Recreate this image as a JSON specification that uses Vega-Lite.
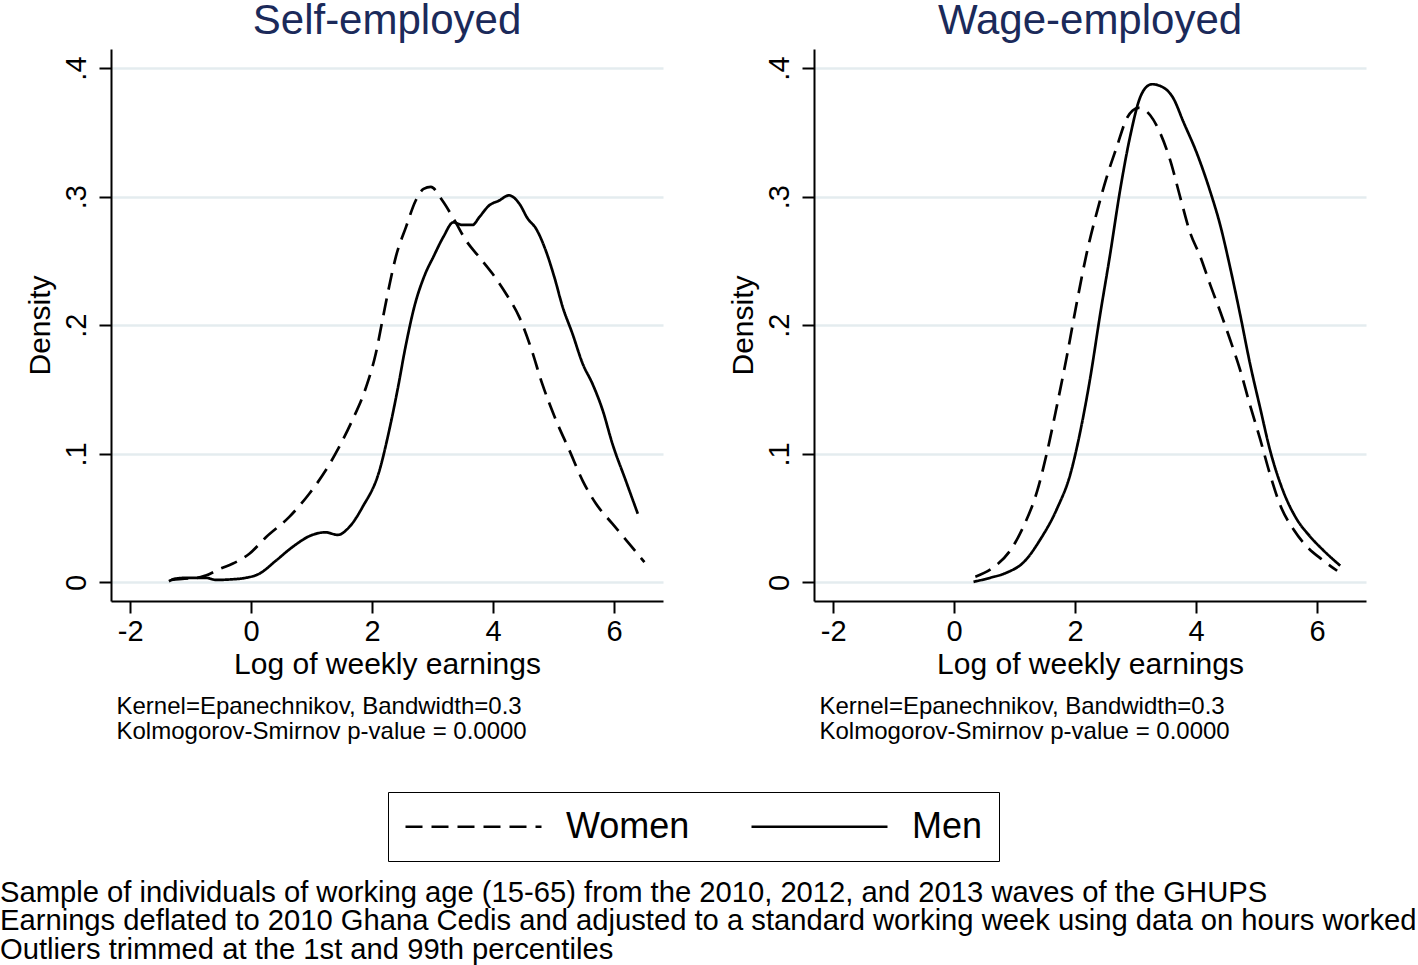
{
  "$schema": "https://vega.github.io/schema/vega-lite/v6.json",
  "background": "white",
  "padding": 0,
  "autosize": {"type": "pad"},
  "datasets": {
    "curves": [
      {"panel": "Self-employed", "sex": "Women", "x": -1.32, "y": 0.002},
      {"panel": "Self-employed", "sex": "Women", "x": -1.1, "y": 0.003},
      {"panel": "Self-employed", "sex": "Women", "x": -0.9, "y": 0.0035},
      {"panel": "Self-employed", "sex": "Women", "x": -0.75, "y": 0.0054},
      {"panel": "Self-employed", "sex": "Women", "x": -0.5, "y": 0.011},
      {"panel": "Self-employed", "sex": "Women", "x": -0.31, "y": 0.0145},
      {"panel": "Self-employed", "sex": "Women", "x": -0.03, "y": 0.0223},
      {"panel": "Self-employed", "sex": "Women", "x": 0.24, "y": 0.035},
      {"panel": "Self-employed", "sex": "Women", "x": 0.63, "y": 0.051},
      {"panel": "Self-employed", "sex": "Women", "x": 0.96, "y": 0.069},
      {"panel": "Self-employed", "sex": "Women", "x": 1.23, "y": 0.087},
      {"panel": "Self-employed", "sex": "Women", "x": 1.45, "y": 0.105},
      {"panel": "Self-employed", "sex": "Women", "x": 1.67, "y": 0.126},
      {"panel": "Self-employed", "sex": "Women", "x": 1.9, "y": 0.152},
      {"panel": "Self-employed", "sex": "Women", "x": 2.06, "y": 0.178},
      {"panel": "Self-employed", "sex": "Women", "x": 2.17, "y": 0.204},
      {"panel": "Self-employed", "sex": "Women", "x": 2.28, "y": 0.23},
      {"panel": "Self-employed", "sex": "Women", "x": 2.39, "y": 0.253},
      {"panel": "Self-employed", "sex": "Women", "x": 2.56, "y": 0.2765},
      {"panel": "Self-employed", "sex": "Women", "x": 2.72, "y": 0.297},
      {"panel": "Self-employed", "sex": "Women", "x": 2.85, "y": 0.306},
      {"panel": "Self-employed", "sex": "Women", "x": 2.97, "y": 0.3076},
      {"panel": "Self-employed", "sex": "Women", "x": 3.16, "y": 0.297},
      {"panel": "Self-employed", "sex": "Women", "x": 3.36, "y": 0.2817},
      {"panel": "Self-employed", "sex": "Women", "x": 3.55, "y": 0.266},
      {"panel": "Self-employed", "sex": "Women", "x": 3.77, "y": 0.253},
      {"panel": "Self-employed", "sex": "Women", "x": 3.99, "y": 0.24},
      {"panel": "Self-employed", "sex": "Women", "x": 4.21, "y": 0.2247},
      {"panel": "Self-employed", "sex": "Women", "x": 4.43, "y": 0.2065},
      {"panel": "Self-employed", "sex": "Women", "x": 4.62, "y": 0.183},
      {"panel": "Self-employed", "sex": "Women", "x": 4.81, "y": 0.1546},
      {"panel": "Self-employed", "sex": "Women", "x": 5.04, "y": 0.126},
      {"panel": "Self-employed", "sex": "Women", "x": 5.26, "y": 0.1027},
      {"panel": "Self-employed", "sex": "Women", "x": 5.48, "y": 0.079},
      {"panel": "Self-employed", "sex": "Women", "x": 5.7, "y": 0.0612},
      {"panel": "Self-employed", "sex": "Women", "x": 5.97, "y": 0.0457},
      {"panel": "Self-employed", "sex": "Women", "x": 6.25, "y": 0.0301},
      {"panel": "Self-employed", "sex": "Women", "x": 6.5, "y": 0.0158},
      {"panel": "Self-employed", "sex": "Men", "x": -1.36, "y": 0.001},
      {"panel": "Self-employed", "sex": "Men", "x": -1.25, "y": 0.003},
      {"panel": "Self-employed", "sex": "Men", "x": -1.08, "y": 0.0036},
      {"panel": "Self-employed", "sex": "Men", "x": -0.9, "y": 0.0036},
      {"panel": "Self-employed", "sex": "Men", "x": -0.75, "y": 0.0036},
      {"panel": "Self-employed", "sex": "Men", "x": -0.58, "y": 0.002},
      {"panel": "Self-employed", "sex": "Men", "x": -0.3, "y": 0.0025},
      {"panel": "Self-employed", "sex": "Men", "x": -0.09, "y": 0.0036},
      {"panel": "Self-employed", "sex": "Men", "x": 0.13, "y": 0.0067},
      {"panel": "Self-employed", "sex": "Men", "x": 0.41, "y": 0.017},
      {"panel": "Self-employed", "sex": "Men", "x": 0.68, "y": 0.0275},
      {"panel": "Self-employed", "sex": "Men", "x": 1.01, "y": 0.037},
      {"panel": "Self-employed", "sex": "Men", "x": 1.23, "y": 0.039},
      {"panel": "Self-employed", "sex": "Men", "x": 1.43, "y": 0.037},
      {"panel": "Self-employed", "sex": "Men", "x": 1.62, "y": 0.043},
      {"panel": "Self-employed", "sex": "Men", "x": 1.84, "y": 0.0586},
      {"panel": "Self-employed", "sex": "Men", "x": 2.12, "y": 0.087},
      {"panel": "Self-employed", "sex": "Men", "x": 2.28, "y": 0.118},
      {"panel": "Self-employed", "sex": "Men", "x": 2.42, "y": 0.15},
      {"panel": "Self-employed", "sex": "Men", "x": 2.55, "y": 0.183},
      {"panel": "Self-employed", "sex": "Men", "x": 2.7, "y": 0.215},
      {"panel": "Self-employed", "sex": "Men", "x": 2.86, "y": 0.238},
      {"panel": "Self-employed", "sex": "Men", "x": 3.02, "y": 0.254},
      {"panel": "Self-employed", "sex": "Men", "x": 3.18, "y": 0.269},
      {"panel": "Self-employed", "sex": "Men", "x": 3.34, "y": 0.28},
      {"panel": "Self-employed", "sex": "Men", "x": 3.49, "y": 0.278},
      {"panel": "Self-employed", "sex": "Men", "x": 3.66, "y": 0.278},
      {"panel": "Self-employed", "sex": "Men", "x": 3.77, "y": 0.284},
      {"panel": "Self-employed", "sex": "Men", "x": 3.93, "y": 0.293},
      {"panel": "Self-employed", "sex": "Men", "x": 4.1, "y": 0.297},
      {"panel": "Self-employed", "sex": "Men", "x": 4.26, "y": 0.301},
      {"panel": "Self-employed", "sex": "Men", "x": 4.43, "y": 0.2947},
      {"panel": "Self-employed", "sex": "Men", "x": 4.57, "y": 0.283},
      {"panel": "Self-employed", "sex": "Men", "x": 4.71, "y": 0.275},
      {"panel": "Self-employed", "sex": "Men", "x": 4.87, "y": 0.258},
      {"panel": "Self-employed", "sex": "Men", "x": 5.01, "y": 0.2376},
      {"panel": "Self-employed", "sex": "Men", "x": 5.15, "y": 0.214},
      {"panel": "Self-employed", "sex": "Men", "x": 5.31, "y": 0.1935},
      {"panel": "Self-employed", "sex": "Men", "x": 5.48, "y": 0.17},
      {"panel": "Self-employed", "sex": "Men", "x": 5.64, "y": 0.1546},
      {"panel": "Self-employed", "sex": "Men", "x": 5.81, "y": 0.1339},
      {"panel": "Self-employed", "sex": "Men", "x": 5.97, "y": 0.108},
      {"panel": "Self-employed", "sex": "Men", "x": 6.19, "y": 0.0794},
      {"panel": "Self-employed", "sex": "Men", "x": 6.39, "y": 0.0535},
      {"panel": "Wage-employed", "sex": "Women", "x": 0.35, "y": 0.0045},
      {"panel": "Wage-employed", "sex": "Women", "x": 0.65, "y": 0.0118},
      {"panel": "Wage-employed", "sex": "Women", "x": 0.93, "y": 0.0251},
      {"panel": "Wage-employed", "sex": "Women", "x": 1.15, "y": 0.044},
      {"panel": "Wage-employed", "sex": "Women", "x": 1.37, "y": 0.0708},
      {"panel": "Wage-employed", "sex": "Women", "x": 1.53, "y": 0.1003},
      {"panel": "Wage-employed", "sex": "Women", "x": 1.7, "y": 0.1379},
      {"panel": "Wage-employed", "sex": "Women", "x": 1.86, "y": 0.1754},
      {"panel": "Wage-employed", "sex": "Women", "x": 2.03, "y": 0.2184},
      {"panel": "Wage-employed", "sex": "Women", "x": 2.19, "y": 0.2559},
      {"panel": "Wage-employed", "sex": "Women", "x": 2.36, "y": 0.2882},
      {"panel": "Wage-employed", "sex": "Women", "x": 2.52, "y": 0.315},
      {"panel": "Wage-employed", "sex": "Women", "x": 2.69, "y": 0.339},
      {"panel": "Wage-employed", "sex": "Women", "x": 2.85, "y": 0.3606},
      {"panel": "Wage-employed", "sex": "Women", "x": 2.95, "y": 0.367},
      {"panel": "Wage-employed", "sex": "Women", "x": 3.05, "y": 0.369},
      {"panel": "Wage-employed", "sex": "Women", "x": 3.24, "y": 0.3633},
      {"panel": "Wage-employed", "sex": "Women", "x": 3.4, "y": 0.35},
      {"panel": "Wage-employed", "sex": "Women", "x": 3.57, "y": 0.3284},
      {"panel": "Wage-employed", "sex": "Women", "x": 3.74, "y": 0.2989},
      {"panel": "Wage-employed", "sex": "Women", "x": 3.9, "y": 0.272},
      {"panel": "Wage-employed", "sex": "Women", "x": 4.07, "y": 0.2532},
      {"panel": "Wage-employed", "sex": "Women", "x": 4.23, "y": 0.2318},
      {"panel": "Wage-employed", "sex": "Women", "x": 4.4, "y": 0.2103},
      {"panel": "Wage-employed", "sex": "Women", "x": 4.56, "y": 0.1889},
      {"panel": "Wage-employed", "sex": "Women", "x": 4.73, "y": 0.1647},
      {"panel": "Wage-employed", "sex": "Women", "x": 4.89, "y": 0.1379},
      {"panel": "Wage-employed", "sex": "Women", "x": 5.06, "y": 0.111},
      {"panel": "Wage-employed", "sex": "Women", "x": 5.22, "y": 0.0842},
      {"panel": "Wage-employed", "sex": "Women", "x": 5.39, "y": 0.06},
      {"panel": "Wage-employed", "sex": "Women", "x": 5.61, "y": 0.0412},
      {"panel": "Wage-employed", "sex": "Women", "x": 5.83, "y": 0.0279},
      {"panel": "Wage-employed", "sex": "Women", "x": 6.1, "y": 0.0171},
      {"panel": "Wage-employed", "sex": "Women", "x": 6.33, "y": 0.0091},
      {"panel": "Wage-employed", "sex": "Men", "x": 0.32, "y": 0.0005},
      {"panel": "Wage-employed", "sex": "Men", "x": 0.6, "y": 0.0037},
      {"panel": "Wage-employed", "sex": "Men", "x": 0.87, "y": 0.0077},
      {"panel": "Wage-employed", "sex": "Men", "x": 1.15, "y": 0.0158},
      {"panel": "Wage-employed", "sex": "Men", "x": 1.42, "y": 0.0332},
      {"panel": "Wage-employed", "sex": "Men", "x": 1.7, "y": 0.0574},
      {"panel": "Wage-employed", "sex": "Men", "x": 1.92, "y": 0.0842},
      {"panel": "Wage-employed", "sex": "Men", "x": 2.08, "y": 0.1164},
      {"panel": "Wage-employed", "sex": "Men", "x": 2.25, "y": 0.1594},
      {"panel": "Wage-employed", "sex": "Men", "x": 2.41, "y": 0.2076},
      {"panel": "Wage-employed", "sex": "Men", "x": 2.58, "y": 0.2559},
      {"panel": "Wage-employed", "sex": "Men", "x": 2.74, "y": 0.3043},
      {"panel": "Wage-employed", "sex": "Men", "x": 2.91, "y": 0.3472},
      {"panel": "Wage-employed", "sex": "Men", "x": 3.07, "y": 0.3767},
      {"panel": "Wage-employed", "sex": "Men", "x": 3.17, "y": 0.385},
      {"panel": "Wage-employed", "sex": "Men", "x": 3.27, "y": 0.3874},
      {"panel": "Wage-employed", "sex": "Men", "x": 3.46, "y": 0.3848},
      {"panel": "Wage-employed", "sex": "Men", "x": 3.62, "y": 0.3767},
      {"panel": "Wage-employed", "sex": "Men", "x": 3.79, "y": 0.358},
      {"panel": "Wage-employed", "sex": "Men", "x": 4.01, "y": 0.3339},
      {"panel": "Wage-employed", "sex": "Men", "x": 4.23, "y": 0.3043},
      {"panel": "Wage-employed", "sex": "Men", "x": 4.4, "y": 0.2774},
      {"panel": "Wage-employed", "sex": "Men", "x": 4.56, "y": 0.2452},
      {"panel": "Wage-employed", "sex": "Men", "x": 4.73, "y": 0.2076},
      {"panel": "Wage-employed", "sex": "Men", "x": 4.89, "y": 0.1701},
      {"panel": "Wage-employed", "sex": "Men", "x": 5.06, "y": 0.1352},
      {"panel": "Wage-employed", "sex": "Men", "x": 5.22, "y": 0.103},
      {"panel": "Wage-employed", "sex": "Men", "x": 5.44, "y": 0.0708},
      {"panel": "Wage-employed", "sex": "Men", "x": 5.66, "y": 0.0494},
      {"panel": "Wage-employed", "sex": "Men", "x": 5.88, "y": 0.0359},
      {"panel": "Wage-employed", "sex": "Men", "x": 6.1, "y": 0.0251},
      {"panel": "Wage-employed", "sex": "Men", "x": 6.38, "y": 0.0131}
    ]
  },
  "title": {
    "text": [
      "Sample of individuals of working age (15-65) from the 2010, 2012, and 2013 waves of the GHUPS",
      "Earnings deflated to 2010 Ghana Cedis and adjusted to a standard working week using data on hours worked",
      "Outliers trimmed at the 1st and 99th percentiles"
    ],
    "orient": "bottom",
    "anchor": "start",
    "frame": "bounds",
    "fontSize": 29.2,
    "fontWeight": "normal",
    "color": "black",
    "lineHeight": 28.5,
    "baseline": "alphabetic",
    "offset": 40,
    "dx": -25
  },
  "spacing": 65,
  "resolve": {"scale": {"strokeDash": "shared"}, "legend": {"strokeDash": "shared"}},
  "hconcat": [
    {
      "width": 552,
      "height": 552,
      "title": {"text": "Self-employed"},
      "data": {"name": "curves"},
      "transform": [{"filter": "datum.panel === 'Self-employed'"}],
      "encoding": {
        "y": {"field": "y", "type": "quantitative", "scale": {"domain": [-0.0144, 0.4148], "nice": false, "zero": false},
          "axis": {"title": "Density", "values": [0, 0.1, 0.2, 0.3, 0.4], "labelExpr": "datum.value == 0 ? '0' : replace(format(datum.value, '.1f'), '0.', '.')"}},
        "strokeDash": {"field": "sex", "type": "nominal", "scale": {"domain": ["Women", "Men"], "range": [[17, 9], [1, 0]]},
          "legend": {"encode": {"symbols": {"update": {"strokeDash": {"signal": "datum.value === 'Women' ? [24, 9] : [1, 0]"}}}}}}
      },
      "layer": [
        {
          "transform": [{"filter": "datum.sex === 'Women'"}],
          "mark": {"type": "line", "color": "black", "strokeWidth": 2.7, "interpolate": "monotone"},
          "encoding": {"x": {"field": "x", "type": "quantitative", "scale": {"domain": [-2.317, 6.807], "nice": false, "zero": false},
            "axis": {"title": "Log of weekly earnings", "orient": "bottom", "values": [-2, 0, 2, 4, 6], "labelExpr": "'' + datum.value"}}}
        },
        {
          "transform": [{"filter": "datum.sex === 'Men'"}],
          "mark": {"type": "line", "color": "black", "strokeWidth": 2.7, "interpolate": "monotone"},
          "encoding": {"x": {"field": "x", "type": "quantitative", "scale": {"domain": [-2.317, 6.807], "nice": false, "zero": false},
            "axis": {"style": "notes", "orient": "bottom", "title": ["Kernel=Epanechnikov, Bandwidth=0.3", "Kolmogorov-Smirnov p-value = 0.0000"]}}}
        }
      ],
      "resolve": {"axis": {"x": "independent"}}
    },
    {
      "width": 552,
      "height": 552,
      "title": {"text": "Wage-employed"},
      "data": {"name": "curves"},
      "transform": [{"filter": "datum.panel === 'Wage-employed'"}],
      "encoding": {
        "y": {"field": "y", "type": "quantitative", "scale": {"domain": [-0.0144, 0.4148], "nice": false, "zero": false},
          "axis": {"title": "Density", "values": [0, 0.1, 0.2, 0.3, 0.4], "labelExpr": "datum.value == 0 ? '0' : replace(format(datum.value, '.1f'), '0.', '.')"}},
        "strokeDash": {"field": "sex", "type": "nominal", "scale": {"domain": ["Women", "Men"], "range": [[17, 9], [1, 0]]},
          "legend": {"encode": {"symbols": {"update": {"strokeDash": {"signal": "datum.value === 'Women' ? [24, 9] : [1, 0]"}}}}}}
      },
      "layer": [
        {
          "transform": [{"filter": "datum.sex === 'Women'"}],
          "mark": {"type": "line", "color": "black", "strokeWidth": 2.7, "interpolate": "monotone"},
          "encoding": {"x": {"field": "x", "type": "quantitative", "scale": {"domain": [-2.317, 6.807], "nice": false, "zero": false},
            "axis": {"title": "Log of weekly earnings", "orient": "bottom", "values": [-2, 0, 2, 4, 6], "labelExpr": "'' + datum.value"}}}
        },
        {
          "transform": [{"filter": "datum.sex === 'Men'"}],
          "mark": {"type": "line", "color": "black", "strokeWidth": 2.7, "interpolate": "monotone"},
          "encoding": {"x": {"field": "x", "type": "quantitative", "scale": {"domain": [-2.317, 6.807], "nice": false, "zero": false},
            "axis": {"style": "notes", "orient": "bottom", "title": ["Kernel=Epanechnikov, Bandwidth=0.3", "Kolmogorov-Smirnov p-value = 0.0000"]}}}
        }
      ],
      "resolve": {"axis": {"x": "independent"}}
    }
  ],
  "config": {
    "font": "Liberation Sans",
    "view": {"stroke": null},
    "title": {"fontSize": 42, "fontWeight": "normal", "color": "#1b2a5a", "anchor": "middle", "baseline": "alphabetic", "offset": 6},
    "axis": {
      "domainColor": "black", "domainWidth": 2, "tickColor": "black", "tickWidth": 2, "tickSize": 12,
      "labelColor": "black", "labelFontSize": 29, "titleColor": "black", "titleFontSize": 30, "titleFontWeight": "normal",
      "gridColor": "#e4ecef", "gridWidth": 2.5
    },
    "axisX": {
      "grid": false,
      "labelBaseline": "alphabetic", "labelPadding": 27, "labelFlush": false, "labelOverlap": false,
      "titleBaseline": "alphabetic", "titleY": 72, "titleFontSize": 30
    },
    "axisY": {
      "grid": true,
      "labelAngle": -90, "labelAlign": "center", "labelBaseline": "alphabetic", "labelPadding": 14,
      "labelFlush": false, "labelOverlap": false,
      "titleAngle": -90, "titleAlign": "center", "titleBaseline": "alphabetic", "titleX": -62, "titleY": 276
    },
    "style": {
      "notes": {
        "domain": false, "ticks": false, "labels": false, "grid": false,
        "titleFontSize": 24, "titleAlign": "left", "titleAnchor": "start", "titleBaseline": "alphabetic",
        "titleX": 5, "titleY": 112, "titleLineHeight": 25
      }
    },
    "legend": {
      "orient": "none", "legendX": 277, "legendY": 743, "direction": "horizontal",
      "title": null, "symbolType": "M-1,0H7", "symbolSize": 1156, "symbolStrokeWidth": 2.7, "symbolStrokeColor": "black",
      "labelFontSize": 36, "labelColor": "black", "labelOffset": 125, "columnPadding": 56, "padding": 16,
      "strokeColor": "black"
    }
  }
}
